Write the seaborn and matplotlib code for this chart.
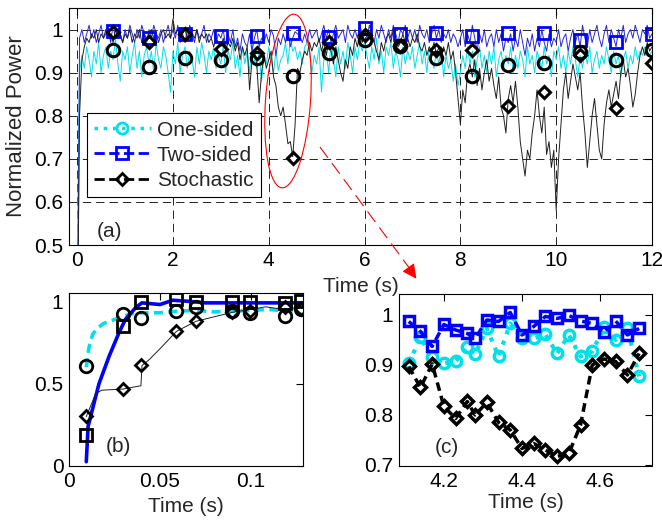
import numpy as np
import pandas as pd
import matplotlib
matplotlib.use("Agg")
import matplotlib.pyplot as plt
import seaborn as sns
from matplotlib.patches import Ellipse
from matplotlib.lines import Line2D
from matplotlib.transforms import IdentityTransform

# ---------------- data ----------------
# panel (a): traces sampled every 0.05 s from 0 to 12 s
t_a = np.linspace(0, 12, 241)
one_sided_a = [
    0.45, 0.90, 0.94, 0.91, 0.96, 0.93, 0.89, 0.95, 0.92, 0.97, 0.90, 0.94, 0.96, 0.91, 0.95, 0.93, 0.98, 0.92, 0.88, 0.95,
    0.93, 0.96, 0.90, 0.94, 0.97, 0.91, 0.95, 0.89, 0.94, 0.96, 0.92, 0.95, 0.90, 0.97, 0.93, 0.91, 0.96, 0.94, 0.90, 0.855,
    0.95, 0.92, 0.97, 0.90, 0.94, 0.96, 0.91, 0.95, 0.93, 0.89, 0.96, 0.92, 0.97, 0.94, 0.90, 0.95, 0.93, 0.96, 0.91, 0.94,
    0.92, 0.96, 0.90, 0.95, 0.93, 0.97, 0.91, 0.94, 0.89, 0.96, 0.92, 0.95, 0.90, 0.97, 0.93, 0.91, 0.95, 0.88, 0.94, 0.92,
    0.96, 0.93, 0.90, 0.95, 0.905, 0.93, 0.94, 0.97, 0.92, 0.98, 0.95, 0.96, 0.93, 0.95, 0.92, 0.96, 0.97, 0.95, 0.90, 0.94,
    0.92, 0.96, 0.855, 0.93, 0.95, 0.90, 0.97, 0.93, 0.89, 0.96, 0.92, 0.95, 0.91, 0.97, 0.94, 0.90, 0.96, 0.93, 0.97, 0.95,
    0.97, 0.94, 0.91, 0.96, 0.93, 0.98, 0.92, 0.95, 0.90, 0.96, 0.94, 0.97, 0.91, 0.95, 0.93, 0.89, 0.96, 0.92, 0.95, 0.93,
    0.96, 0.91, 0.94, 0.97, 0.92, 0.95, 0.90, 0.96, 0.93, 0.91, 0.95, 0.92, 0.96, 0.89, 0.94, 0.91, 0.93, 0.88, 0.92, 0.87,
    0.90, 0.94, 0.91, 0.96, 0.92, 0.95, 0.89, 0.93, 0.96, 0.91, 0.94, 0.90, 0.95, 0.92, 0.96, 0.89, 0.93, 0.95, 0.91, 0.94,
    0.92, 0.96, 0.90, 0.94, 0.91, 0.95, 0.93, 0.89, 0.96, 0.92, 0.94, 0.90, 0.95, 0.93, 0.91, 0.96, 0.92, 0.94, 0.89, 0.95,
    0.93, 0.96, 0.91, 0.94, 0.90, 0.95, 0.92, 0.96, 0.93, 0.89, 0.94, 0.91, 0.95, 0.92, 0.96, 0.90, 0.93, 0.95, 0.91, 0.94,
    0.92, 0.96, 0.93, 0.90, 0.95, 0.92, 0.94, 0.89, 0.93, 0.95, 0.91, 0.94, 0.92, 0.96, 0.93, 0.95, 0.94, 0.96, 0.95, 0.94,
    0.95]
two_sided_a = [
    0.00, 0.98, 1.00, 0.97, 0.99, 1.01, 0.98, 1.00, 0.97, 0.99, 1.01, 0.98, 0.99, 1.00, 0.97, 1.01, 0.98, 1.00, 0.99, 0.97,
    1.00, 0.98, 1.01, 0.99, 0.97, 1.00, 0.98, 1.01, 0.99, 0.97, 1.00, 0.98, 1.01, 0.99, 0.98, 1.00, 0.97, 0.99, 1.01, 0.98,
    1.00, 0.98, 1.01, 0.97, 0.99, 1.00, 0.98, 1.01, 0.99, 0.97, 1.00, 0.98, 0.99, 1.01, 0.97, 0.99, 0.98, 1.00, 0.97, 0.99,
    0.98, 1.00, 0.96, 0.99, 0.97, 1.00, 0.96, 0.98, 0.95, 0.99, 0.97, 0.96, 0.99, 0.95, 0.98, 1.00, 0.96, 0.98, 0.97, 0.99,
    0.97, 1.00, 0.985, 0.94, 0.98, 0.965, 0.99, 0.97, 1.00, 0.96, 0.98, 0.995, 0.99, 0.985, 0.97, 0.99, 0.97, 1.00, 0.98, 0.99,
    1.00, 0.97, 0.99, 1.01, 0.98, 1.00, 0.97, 0.99, 1.01, 0.98, 0.99, 1.00, 0.97, 1.01, 0.99, 0.98, 1.00, 0.98, 1.01, 0.99,
    1.00, 0.98, 1.01, 0.99, 0.97, 1.00, 0.98, 1.01, 0.99, 0.97, 1.00, 0.98, 1.01, 0.99, 0.97, 1.00, 0.99, 1.01, 0.98, 1.00,
    0.98, 1.00, 0.97, 1.01, 0.99, 0.98, 1.00, 0.97, 0.99, 1.01, 0.98, 1.00, 0.97, 0.99, 0.98, 1.00, 0.97, 0.99, 0.98, 0.96,
    0.98, 1.00, 0.96, 0.99, 0.97, 1.01, 0.98, 0.95, 0.99, 0.97, 1.00, 0.96, 0.98, 0.99, 0.96, 1.00, 0.97, 0.99, 0.95, 0.98,
    0.97, 0.99, 0.95, 0.98, 0.96, 1.00, 0.97, 0.94, 0.98, 0.96, 0.99, 0.95, 0.98, 0.96, 1.00, 0.97, 0.95, 0.99, 0.96, 0.98,
    0.97, 1.00, 0.96, 0.98, 0.99, 0.95, 0.98, 1.00, 0.97, 0.99, 0.96, 1.01, 0.98, 0.96, 1.00, 0.97, 0.99, 1.01, 0.98, 0.96,
    0.99, 1.01, 0.97, 1.00, 0.98, 0.96, 1.00, 0.98, 1.01, 0.97, 0.99, 1.00, 0.98, 1.01, 0.99, 0.97, 1.00, 0.99, 1.01, 0.98,
    0.99]
stochastic_a = [
    0.20, 0.80, 0.93, 0.96, 0.98, 0.97, 0.99, 0.98, 1.00, 0.97, 0.99, 0.98, 1.00, 0.98, 0.99, 0.97, 1.00, 0.98, 0.99, 0.97,
    0.99, 0.98, 1.00, 0.97, 0.99, 0.98, 1.00, 0.97, 0.99, 0.98, 0.99, 1.00, 0.98, 0.99, 0.97, 0.99, 1.00, 0.98, 0.99, 0.98,
    1.025, 0.99, 1.00, 0.98, 0.99, 0.97, 1.00, 0.98, 0.99, 0.98, 1.00, 0.97, 0.99, 0.98, 0.99, 0.97, 0.98, 0.96, 0.98, 0.97,
    0.96, 0.98, 0.95, 0.97, 0.96, 0.98, 0.95, 0.97, 0.93, 0.96, 0.94, 0.96, 0.86, 0.93, 0.95, 0.92, 0.83, 0.90, 0.94, 0.91,
    0.93, 0.95, 0.89, 0.87, 0.82, 0.80, 0.82, 0.78, 0.735, 0.74, 0.705, 0.78, 0.91, 0.90, 0.93, 0.95, 0.94, 0.97, 0.95, 0.97,
    0.96, 0.98, 0.95, 0.97, 0.94, 0.97, 0.95, 0.92, 0.96, 0.93, 0.90, 0.88, 0.93, 0.91, 0.96, 0.94, 0.98, 0.96, 0.99, 0.97,
    0.99, 1.00, 0.98, 0.99, 0.97, 0.95, 0.93, 0.97, 0.95, 0.98, 0.99, 0.97, 1.00, 0.98, 0.96, 0.97, 0.99, 0.97, 0.98, 0.96,
    0.98, 0.97, 0.99, 0.96, 0.95, 0.97, 0.94, 0.96, 0.95, 0.97, 0.94, 0.96, 0.93, 0.96, 0.94, 0.97, 0.93, 0.95, 0.90, 0.84,
    0.78, 0.86, 0.83, 0.90, 0.92, 0.89, 0.93, 0.87, 0.91, 0.86, 0.90, 0.93, 0.88, 0.91, 0.87, 0.84, 0.89, 0.82, 0.80, 0.76,
    0.84, 0.87, 0.83, 0.88, 0.82, 0.74, 0.70, 0.66, 0.72, 0.70, 0.76, 0.80, 0.86, 0.80, 0.76, 0.82, 0.71, 0.74, 0.68, 0.72,
    0.58, 0.70, 0.78, 0.86, 0.90, 0.84, 0.88, 0.92, 0.89, 0.86, 0.90, 0.82, 0.76, 0.68, 0.74, 0.80, 0.84, 0.78, 0.72, 0.70,
    0.78, 0.83, 0.86, 0.82, 0.85, 0.88, 0.84, 0.90, 0.93, 0.89, 0.91, 0.87, 0.82, 0.85, 0.90, 0.94, 0.96, 0.94, 0.97, 0.95,
    0.96]

# panel (a): markers every 0.75 s
t_mark_a = [0.75, 1.5, 2.25, 3.0, 3.75, 4.5, 5.25, 6.0, 6.75, 7.5, 8.25, 9.0, 9.75, 10.5, 11.25, 12.0]
one_mark_a = [0.953, 0.914, 0.933, 0.930, 0.935, 0.893, 0.945, 0.975, 0.962, 0.933, 0.893, 0.918, 0.923, 0.948, 0.930, 0.953]
two_mark_a = [0.997, 0.980, 0.990, 0.984, 0.984, 0.993, 0.982, 1.003, 0.990, 0.993, 0.986, 0.993, 0.993, 0.976, 0.970, 0.990]
sto_mark_a = [0.995, 0.972, 0.990, 0.955, 0.945, 0.702, 0.970, 0.988, 0.962, 0.953, 0.953, 0.823, 0.854, 0.942, 0.818, 0.923]

# panel (b): start-up detail
t_one_b = [0.0095, 0.011, 0.013, 0.016, 0.019, 0.024, 0.03, 0.035, 0.04, 0.05, 0.06, 0.07, 0.08, 0.09, 0.10, 0.11, 0.12, 0.125, 0.1285]
one_b = [0.60, 0.72, 0.80, 0.84, 0.865, 0.885, 0.91, 0.925, 0.93, 0.93, 0.94, 0.945, 0.935, 0.94, 0.945, 0.95, 0.94, 0.925, 0.92]
t_two_b = [0.0095, 0.0105, 0.0128, 0.0165, 0.022, 0.0275, 0.031, 0.0365, 0.04, 0.05, 0.057, 0.065, 0.075, 0.09, 0.11, 0.1285]
two_b = [0.026, 0.24, 0.34, 0.50, 0.665, 0.81, 0.89, 0.96, 0.99, 0.98, 1.006, 1.0, 0.99, 0.99, 0.99, 0.99]
t_sto_b = [0.0095, 0.0147, 0.018, 0.0297, 0.0395, 0.0401, 0.044, 0.0495, 0.059, 0.0697, 0.081, 0.09, 0.108, 0.118, 0.1285]
sto_b = [0.30, 0.44, 0.46, 0.467, 0.487, 0.61, 0.645, 0.706, 0.817, 0.878, 0.909, 0.933, 0.966, 0.95, 0.966]
t_mark_b = [0.0095, 0.0295, 0.0395, 0.059, 0.0695, 0.0895, 0.0995, 0.1185, 0.1275]
one_mark_b = [0.604, 0.92, 0.90, 0.94, 0.965, 0.94, 0.93, 0.91, 0.95]
two_mark_b = [0.19, 0.85, 0.996, 1.015, 0.996, 0.996, 0.996, 0.99, 1.0]
sto_mark_b = [0.304, 0.467, 0.61, 0.817, 0.878, 0.933, 0.94, 0.965, 0.955]

# panel (c): zoom of the dip around 4.5 s
t_c = [4.11, 4.14, 4.17, 4.20, 4.23, 4.26, 4.28, 4.31, 4.34, 4.37, 4.40,
       4.43, 4.46, 4.49, 4.52, 4.55, 4.58, 4.61, 4.64, 4.67, 4.70]
one_c = [0.903, 0.955, 0.915, 0.903, 0.908, 0.935, 0.921, 0.973, 0.917, 0.983, 0.953,
         0.953, 0.961, 0.923, 0.960, 0.917, 0.927, 0.975, 0.950, 0.973, 0.877]
two_c = [0.987, 0.967, 0.937, 0.981, 0.970, 0.963, 0.953, 0.990, 0.987, 1.005, 0.960,
         0.977, 0.997, 0.993, 0.999, 0.988, 0.983, 0.965, 0.988, 0.960, 0.973]
sto_c = [0.897, 0.855, 0.902, 0.817, 0.793, 0.827, 0.800, 0.825, 0.785, 0.770, 0.733,
         0.743, 0.730, 0.717, 0.723, 0.780, 0.900, 0.912, 0.907, 0.880, 0.923]

labels = ["One-sided", "Two-sided", "Stochastic"]
xticks_a = [0, 2, 4, 6, 8, 10, 12]
xticklabels_a = ["0", "2", "4", "6", "8", "10", "12"]
yticks_a = [0.5, 0.6, 0.7, 0.8, 0.9, 1.0]
yticklabels_a = ["0.5", "0.6", "0.7", "0.8", "0.9", "1"]
xticks_b = [0, 0.05, 0.1]
xticklabels_b = ["0", "0.05", "0.1"]
yticks_b = [0, 0.5, 1.0]
yticklabels_b = ["0", "0.5", "1"]
xticks_c = [4.2, 4.4, 4.6]
xticklabels_c = ["4.2", "4.4", "4.6"]
yticks_c = [0.7, 0.8, 0.9, 1.0]
yticklabels_c = ["0.7", "0.8", "0.9", "1"]

# ---------------- style ----------------
sns.set_style("white")
plt.rcParams['font.family'] = ['Liberation Sans', 'DejaVu Sans']
plt.rcParams['axes.linewidth'] = 0.8
plt.rcParams['axes.edgecolor'] = 'black'

CYAN = '#00e0e8'
BLUE = '#0000ff'
THINBLUE = '#2828d8'
BLACK = 'black'
FS = 15

fig = plt.figure(figsize=(6.62, 5.23), dpi=100)
ax_a = fig.add_axes([0.1042, 0.5315, 0.8807, 0.4532])
ax_b = fig.add_axes([0.1042, 0.1090, 0.3535, 0.3308])
ax_c = fig.add_axes([0.6027, 0.1090, 0.3822, 0.3289])


def mk(ax, x, y, marker, ms, color, mew=2.0):
    sns.lineplot(x=x, y=y, ax=ax, linestyle='', marker=marker, markersize=ms,
                 markerfacecolor='none', markeredgecolor=color,
                 markeredgewidth=mew, color=color, estimator=None, sort=False)


def style_axes(ax):
    ax.tick_params(direction='in', top=True, right=True, length=5, width=0.8,
                   labelsize=FS, pad=4, colors='black')
    for s in ax.spines.values():
        s.set_visible(True)
        s.set_linewidth(0.8)
        s.set_color('black')


# ---------------- panel (a) ----------------
sns.lineplot(x=t_a, y=one_sided_a, ax=ax_a, color=CYAN, lw=0.7, estimator=None, sort=False)
sns.lineplot(x=t_a, y=two_sided_a, ax=ax_a, color=THINBLUE, lw=0.7, estimator=None, sort=False)
sns.lineplot(x=t_a, y=stochastic_a, ax=ax_a, color='#202020', lw=0.7, estimator=None, sort=False)
mk(ax_a, t_mark_a, two_mark_a, 's', 8.5, BLUE)
mk(ax_a, t_mark_a, one_mark_a, 'o', 9, BLACK, 2.2)
mk(ax_a, t_mark_a, sto_mark_a, 'D', 6.5, BLACK, 2.2)
ax_a.set_xlim(-0.17, 12)
ax_a.set_ylim(0.5, 1.05)
ax_a.set_xticks(xticks_a)
ax_a.set_xticklabels(xticklabels_a)
ax_a.set_yticks(yticks_a)
ax_a.set_yticklabels(yticklabels_a)
ax_a.grid(True, color='black', linestyle=(0, (10, 6)), linewidth=0.6)
style_axes(ax_a)
ax_a.set_ylabel("Normalized Power", fontsize=16, va='center')
ax_a.yaxis.set_label_coords(-0.090, 0.5)
ax_a.set_xlabel("Time (s)", fontsize=FS, va='center')
ax_a.xaxis.set_label_coords(0.5, -0.173)
ax_a.text(0.048, 0.059, "(a)", transform=ax_a.transAxes, fontsize=FS, ha='left', va='center')

handles = [
    Line2D([], [], color=CYAN, ls=':', lw=2.5, marker='o', ms=8, mfc='none', mec=CYAN, mew=2),
    Line2D([], [], color=BLUE, ls='--', lw=2, marker='s', ms=8, mfc='none', mec=BLUE, mew=2),
    Line2D([], [], color=BLACK, ls='--', lw=2, marker='D', ms=6.5, mfc='none', mec=BLACK, mew=2),
]
leg = ax_a.legend(handles, labels, loc='upper left', bbox_to_anchor=(0.031, 0.556),
                  fontsize=FS, frameon=True, fancybox=False, edgecolor='black',
                  framealpha=1, handlelength=2.7, handletextpad=0.3, borderpad=0.35,
                  labelspacing=0.3, borderaxespad=0)
leg.get_frame().set_linewidth(0.8)

# ---------------- panel (b) ----------------
sns.lineplot(x=t_one_b, y=one_b, ax=ax_b, color=CYAN, lw=2.6, linestyle=(0, (2.5, 1.5)), estimator=None, sort=False)
sns.lineplot(x=t_two_b, y=two_b, ax=ax_b, color=BLUE, lw=2.6, estimator=None, sort=False)
sns.lineplot(x=t_sto_b, y=sto_b, ax=ax_b, color='#202020', lw=0.7, estimator=None, sort=False)
mk(ax_b, t_mark_b, one_mark_b, 'o', 9, BLACK, 2.0)
mk(ax_b, t_mark_b, two_mark_b, 's', 9, BLACK, 2.0)
mk(ax_b, t_mark_b, sto_mark_b, 'D', 6.5, BLACK, 2.0)
ax_b.set_xlim(0, 0.1285)
ax_b.set_ylim(0, 1.05)
ax_b.set_xticks(xticks_b)
ax_b.set_xticklabels(xticklabels_b)
ax_b.set_yticks(yticks_b)
ax_b.set_yticklabels(yticklabels_b)
style_axes(ax_b)
ax_b.set_ylabel("")
ax_b.set_xlabel("Time (s)", fontsize=FS, va='center')
ax_b.xaxis.set_label_coords(0.5, -0.235)
ax_b.text(0.158, 0.11, "(b)", transform=ax_b.transAxes, fontsize=FS, ha='left', va='center')

# ---------------- panel (c) ----------------
sns.lineplot(x=t_c, y=one_c, ax=ax_c, color=CYAN, lw=3, linestyle=':', marker='o', markersize=7.5,
             markerfacecolor='none', markeredgecolor=CYAN, markeredgewidth=2.5, estimator=None, sort=False)
sns.lineplot(x=t_c, y=two_c, ax=ax_c, color=BLUE, lw=2.5, linestyle=(0, (2.5, 1.5)), marker='s', markersize=7.5,
             markerfacecolor='none', markeredgecolor=BLUE, markeredgewidth=2.5, estimator=None, sort=False)
sns.lineplot(x=t_c, y=sto_c, ax=ax_c, color=BLACK, lw=2.5, linestyle=(0, (2.5, 1.5)), marker='D', markersize=6.5,
             markerfacecolor='none', markeredgecolor=BLACK, markeredgewidth=2.5, estimator=None, sort=False)
ax_c.set_xlim(4.085, 4.733)
ax_c.set_ylim(0.698, 1.042)
ax_c.set_xticks(xticks_c)
ax_c.set_xticklabels(xticklabels_c)
ax_c.set_yticks(yticks_c)
ax_c.set_yticklabels(yticklabels_c)
style_axes(ax_c)
ax_c.set_ylabel("")
ax_c.set_xlabel("Time (s)", fontsize=FS, va='center')
ax_c.xaxis.set_label_coords(0.5, -0.215)
ax_c.text(0.142, 0.105, "(c)", transform=ax_c.transAxes, fontsize=FS, ha='left', va='center')

# ---------------- red annotation ----------------
H = 523
ell = Ellipse((288, H - 101), width=45, height=174, angle=-4, fill=False,
              edgecolor='red', lw=0.8, transform=IdentityTransform())
fig.add_artist(ell)
fig.add_artist(Line2D([320, 410], [H - 147, H - 269], color='red', lw=0.8,
                      linestyle=(0, (12, 6)), transform=IdentityTransform()))
ax_a.annotate('', xy=(418, H - 281), xycoords='figure pixels',
              xytext=(408, H - 267), textcoords='figure pixels',
              arrowprops=dict(arrowstyle='-|>', color='red', lw=0.8, mutation_scale=22),
              annotation_clip=False)

fig.savefig("out.png", dpi=100)
